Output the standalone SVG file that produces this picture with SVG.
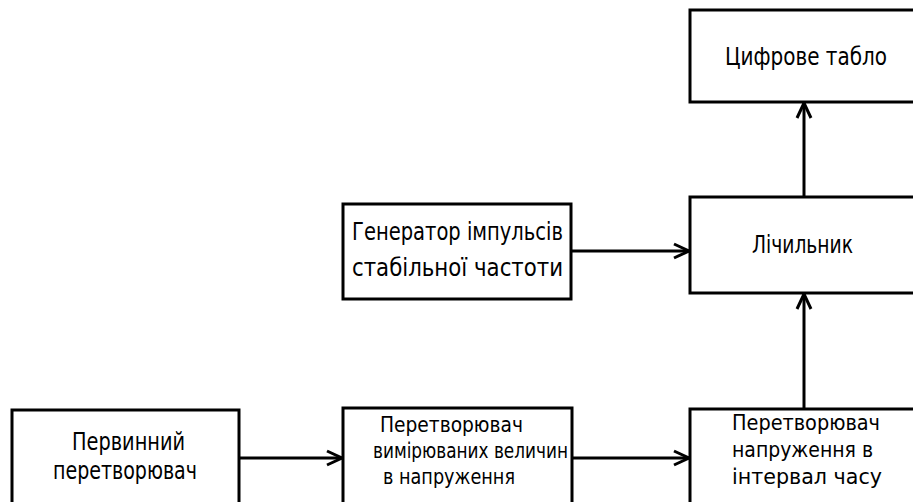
<svg xmlns="http://www.w3.org/2000/svg" width="913" height="502" viewBox="0 0 913 502">
<style>
.box{fill:#fff;stroke:#000;stroke-width:3}
.t{font-family:"DejaVu Sans Condensed","Liberation Sans Narrow","DejaVu Sans",sans-serif;font-size:24px;fill:#000}
.s{font-size:21px}
.c{stroke:#000;stroke-width:3;fill:none}
</style>
<defs>
<marker id="ah" markerUnits="userSpaceOnUse" markerWidth="20" markerHeight="20" viewBox="-17 -10 20 20" refX="0" refY="0" orient="auto">
<path d="M-15,-7 L0,0 L-15,7" fill="none" stroke="#000" stroke-width="3"/>
</marker>
</defs>
<rect width="913" height="502" fill="#fff"/>
<g id="connectors">
<line class="c" x1="804" y1="197" x2="804" y2="103" marker-end="url(#ah)"/>
<line class="c" x1="804" y1="409" x2="804" y2="294" marker-end="url(#ah)"/>
<line class="c" x1="571" y1="251" x2="689" y2="251" marker-end="url(#ah)"/>
<line class="c" x1="239" y1="458" x2="342" y2="458" marker-end="url(#ah)"/>
<line class="c" x1="572" y1="458" x2="689" y2="458" marker-end="url(#ah)"/>
</g>
<g id="display">
<rect class="box" x="690" y="10" width="240" height="92"/>
<text class="t" x="725" y="65" textLength="162" lengthAdjust="spacingAndGlyphs">Цифрове табло</text>
</g>
<g id="counter">
<rect class="box" x="690" y="197" width="240" height="96"/>
<text class="t" x="752" y="253" textLength="101" lengthAdjust="spacingAndGlyphs">Лічильник</text>
</g>
<g id="generator">
<rect class="box" x="343" y="204" width="228" height="95"/>
<text class="t" x="352" y="240" textLength="211" lengthAdjust="spacingAndGlyphs">Генератор імпульсів</text>
<text class="t" x="352" y="276" textLength="211" lengthAdjust="spacingAndGlyphs">стабільної частоти</text>
</g>
<g id="primary">
<rect class="box" x="12" y="410" width="227" height="110"/>
<text class="t" x="72" y="450" textLength="113" lengthAdjust="spacingAndGlyphs">Первинний</text>
<text class="t" x="53" y="479" textLength="144" lengthAdjust="spacingAndGlyphs">перетворювач</text>
</g>
<g id="converter-voltage">
<rect class="box" x="343" y="408" width="229" height="110"/>
<text class="t s" x="380" y="432" textLength="143" lengthAdjust="spacingAndGlyphs">Перетворювач</text>
<text class="t s" x="373" y="458" textLength="195" lengthAdjust="spacingAndGlyphs">вимірюваних величин</text>
<text class="t s" x="383" y="484" textLength="132" lengthAdjust="spacingAndGlyphs">в напруження</text>
</g>
<g id="converter-time">
<rect class="box" x="690" y="409" width="240" height="110"/>
<text class="t s" x="732" y="430" textLength="148" lengthAdjust="spacingAndGlyphs">Перетворювач</text>
<text class="t s" x="732" y="457" textLength="141" lengthAdjust="spacingAndGlyphs">напруження в</text>
<text class="t s" x="732" y="484" textLength="150" lengthAdjust="spacingAndGlyphs">інтервал часу</text>
</g>
</svg>
